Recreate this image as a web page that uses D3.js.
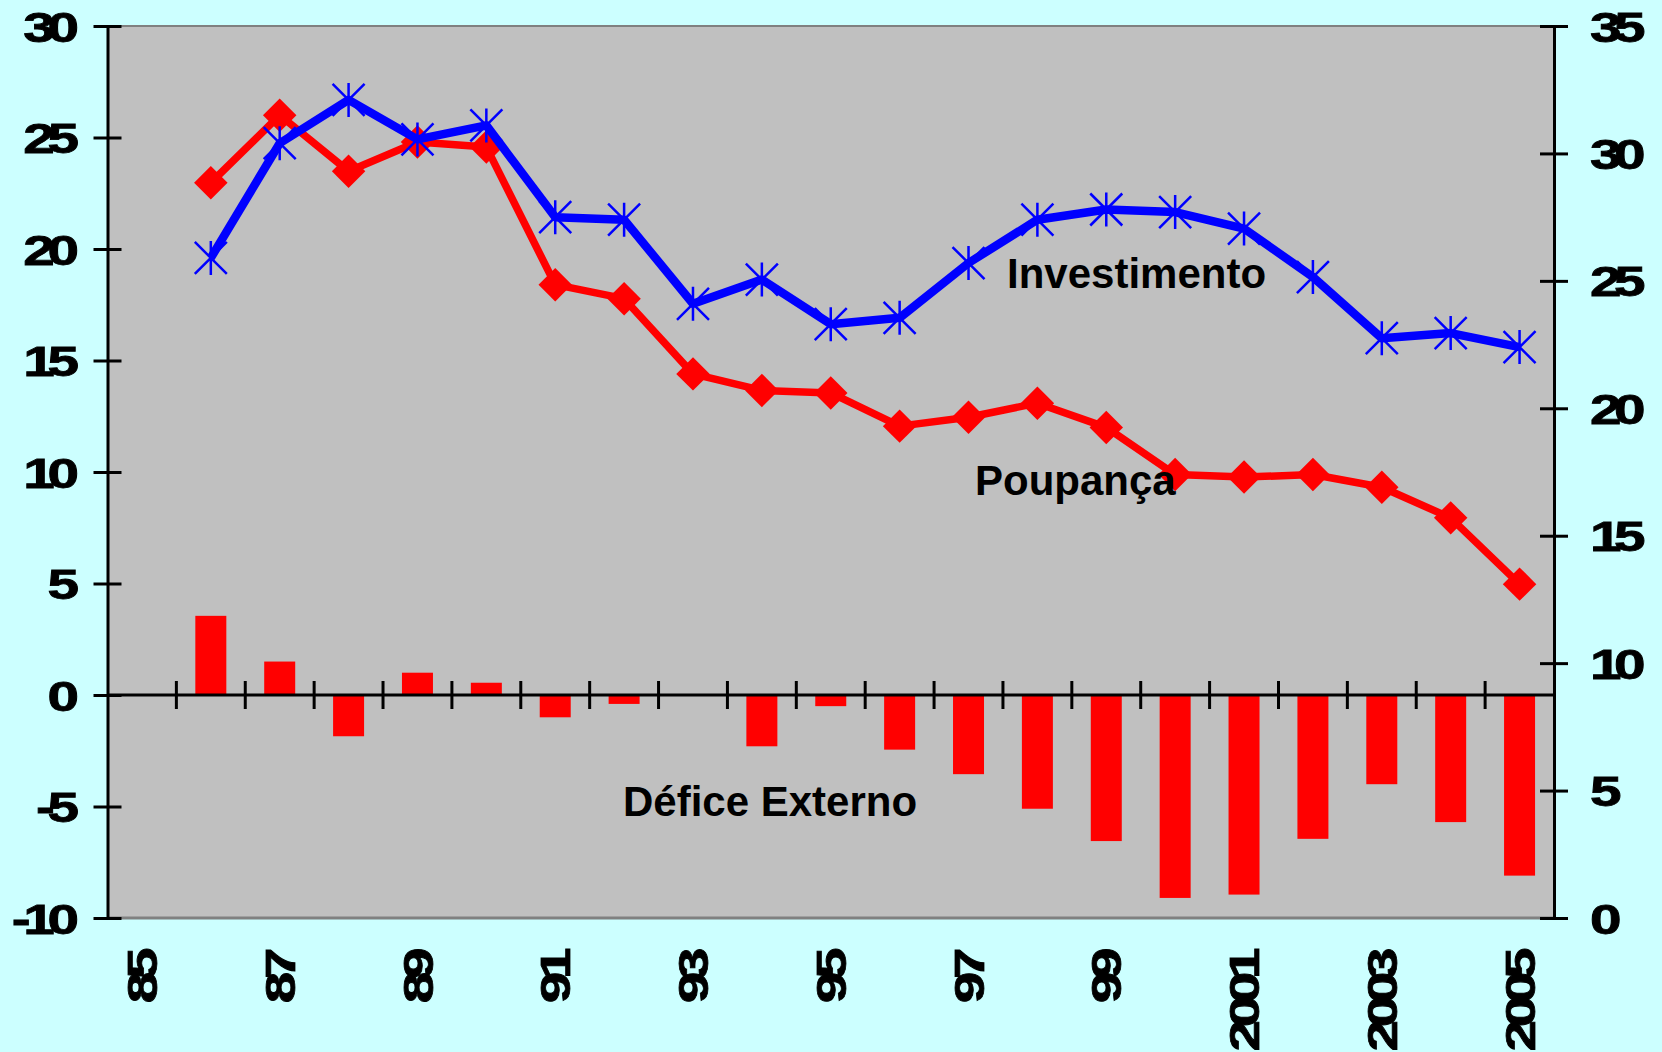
<!DOCTYPE html>
<html>
<head>
<meta charset="utf-8">
<script src="https://cdn.jsdelivr.net/npm/d3@7"></script>
<style>
body { margin: 0; background: #ccffff; }
text { font-family: "Liberation Sans", Arial, sans-serif; font-weight: bold; fill: #000; }
</style>
</head>
<body>
<svg width="1662" height="1052"></svg>
<script>
// categories (years), one band each
let categories = ["85","86","87","88","89","90","91","92","93","94","95","96","97","98","99",
                  "2000","2001","2002","2003","2004","2005"]
let xTickLabels = ["85","87","89","91","93","95","97","99","2001","2003","2005"]

// % do PIB (lines on right axis, bars on left axis)
let investimento = [null, 25.9, 30.4, 32.1, 30.55, 31.1, 27.5, 27.4, 24.1, 25.05, 23.3,
                    23.55, 25.7, 27.4, 27.8, 27.7, 27.05, 25.15, 22.75, 22.95, 22.4]
let poupanca     = [null, 28.85, 31.5, 29.3, 30.45, 30.25, 24.85, 24.3, 21.35, 20.7, 20.6,
                    19.3, 19.65, 20.2, 19.25, 17.4, 17.3, 17.4, 16.9, 15.7, 13.1]
let defice       = [null, 3.55, 1.5, -1.85, 1.0, 0.55, -1.0, -0.4, null, -2.3, -0.5,
                    -2.45, -3.55, -5.1, -6.55, -9.1, -8.95, -6.45, -4.0, -5.7, -8.1]

let leftTicks  = [-10, -5, 0, 5, 10, 15, 20, 25, 30]
let rightTicks = [0, 5, 10, 15, 20, 25, 30, 35]

let svg = d3.select("svg")
let margin = {top: 26, right: 108, bottom: 134, left: 107.5}
let width = +svg.attr("width") - margin.left - margin.right
let height = +svg.attr("height") - margin.top - margin.bottom

svg.append("rect").attr("width", 1662).attr("height", 1052).attr("fill", "#ccffff")

let x = d3.scaleBand().domain(categories).range([0, width]).paddingInner(0.55).paddingOuter(0.275)
let yL = d3.scaleLinear().domain([-10, 30]).range([height, 0])
let yR = d3.scaleLinear().domain([0, 35]).range([height, 0])
let cx = c => x(c) + x.bandwidth() / 2

let g = svg.append("g")
    .attr("transform", "translate(" + margin.left + "," + margin.top + ")")

// plot area
g.append("rect").attr("width", width).attr("height", height).attr("fill", "#c0c0c0")
g.append("line").attr("x1", 0).attr("x2", width).attr("y1", 0).attr("y2", 0)
    .attr("stroke", "#808080").attr("stroke-width", 2)
g.append("line").attr("x1", 0).attr("x2", width).attr("y1", height).attr("y2", height)
    .attr("stroke", "#808080").attr("stroke-width", 3)

// bars: défice externo
let barData = categories.map((c, i) => ({c: c, v: defice[i]})).filter(d => d.v != null)
g.selectAll(".bar")
  .data(barData)
  .enter().append("rect")
    .attr("class", "bar")
    .attr("x", d => x(d.c))
    .attr("y", d => yL(Math.max(0, d.v)))
    .attr("width", x.bandwidth())
    .attr("height", d => Math.abs(yL(d.v) - yL(0)))
    .attr("fill", "#ff0000")

// zero line with category separators
let y0 = yL(0)
g.append("line").attr("x1", 0).attr("x2", width).attr("y1", y0).attr("y2", y0)
    .attr("stroke", "#000").attr("stroke-width", 3)
let gap = x.step() - x.bandwidth()
g.selectAll(".sep")
  .data(categories.slice(1))
  .enter().append("line")
    .attr("class", "sep")
    .attr("x1", d => x(d) - gap / 2).attr("x2", d => x(d) - gap / 2)
    .attr("y1", y0 - 14).attr("y2", y0 + 14)
    .attr("stroke", "#000").attr("stroke-width", 3)

// axes
let plain = d => String(d)   // hyphen, not the unicode minus

function styleTickText(sel, tf, anchor) {
  sel.selectAll(".tick text")
    .attr("x", 0).attr("y", 0).attr("dy", "0.36em")
    .attr("text-anchor", anchor)
    .attr("transform", tf)
    .attr("stroke", "#000").attr("stroke-width", 0.8)
    .style("font-size", "42px")
    .style("letter-spacing", "-5.5px")
}

let gl = g.append("g")
    .call(d3.axisLeft(yL).tickValues(leftTicks).tickFormat(plain).tickSizeOuter(0))
gl.attr("font-size", null).attr("font-family", null)
gl.select(".domain").attr("stroke", "#000").attr("stroke-width", 3)
gl.selectAll(".tick line").attr("x1", -14).attr("x2", 14).attr("stroke", "#000").attr("stroke-width", 3)
styleTickText(gl, "translate(-36,0) scale(1.35,1)", "end")

let gr = g.append("g")
    .attr("transform", "translate(" + width + ",0)")
    .call(d3.axisRight(yR).tickValues(rightTicks).tickFormat(plain).tickSizeOuter(0))
gr.attr("font-size", null).attr("font-family", null)
gr.select(".domain").attr("stroke", "#000").attr("stroke-width", 3)
gr.selectAll(".tick line").attr("x1", -14).attr("x2", 14).attr("stroke", "#000").attr("stroke-width", 3)
styleTickText(gr, "translate(36,0) scale(1.35,1)", "start")

let gb = g.append("g")
    .attr("transform", "translate(0," + height + ")")
    .call(d3.axisBottom(x).tickValues(xTickLabels).tickSize(0))
gb.attr("font-size", null).attr("font-family", null)
gb.select(".domain").remove()
gb.selectAll(".tick text")
    .attr("x", 0).attr("y", 0).attr("dy", "0.36em")
    .attr("text-anchor", "end")
    .attr("transform", "translate(0,37) rotate(-90) scale(1.35,1)")
    .attr("stroke", "#000").attr("stroke-width", 0.8)
    .style("font-size", "42px")
    .style("letter-spacing", "-5.5px")

// lines
let line = d3.line()
    .defined(d => d.v != null)
    .x(d => cx(d.c))
    .y(d => yR(d.v))

let poupData = categories.map((c, i) => ({c: c, v: poupanca[i]}))
let invData = categories.map((c, i) => ({c: c, v: investimento[i]}))

g.append("path").datum(poupData)
    .attr("d", line).attr("fill", "none")
    .attr("stroke", "#ff0000").attr("stroke-width", 7.5).attr("stroke-linejoin", "round")
g.selectAll(".diamond")
  .data(poupData.filter(d => d.v != null))
  .enter().append("path")
    .attr("class", "diamond")
    .attr("d", d3.symbol(d3.symbolSquare, 560))
    .attr("transform", d => "translate(" + cx(d.c) + "," + yR(d.v) + ") rotate(45)")
    .attr("fill", "#ff0000")

g.append("path").datum(invData)
    .attr("d", line).attr("fill", "none")
    .attr("stroke", "#0000ff").attr("stroke-width", 8.5).attr("stroke-linejoin", "round")
let star = "M-16,-16L16,16M-16,16L16,-16M0,-17L0,17"
g.selectAll(".star")
  .data(invData.filter(d => d.v != null))
  .enter().append("path")
    .attr("class", "star")
    .attr("d", star)
    .attr("transform", d => "translate(" + cx(d.c) + "," + yR(d.v) + ")")
    .attr("fill", "none").attr("stroke", "#0000ff").attr("stroke-width", 2.5)

// series labels
svg.append("text").attr("x", 1007).attr("y", 288).style("font-size", "42px").text("Investimento")
svg.append("text").attr("x", 975).attr("y", 495).style("font-size", "42px").text("Poupança")
svg.append("text").attr("x", 623).attr("y", 816).style("font-size", "42px").text("Défice Externo")
</script>
</body>
</html>
